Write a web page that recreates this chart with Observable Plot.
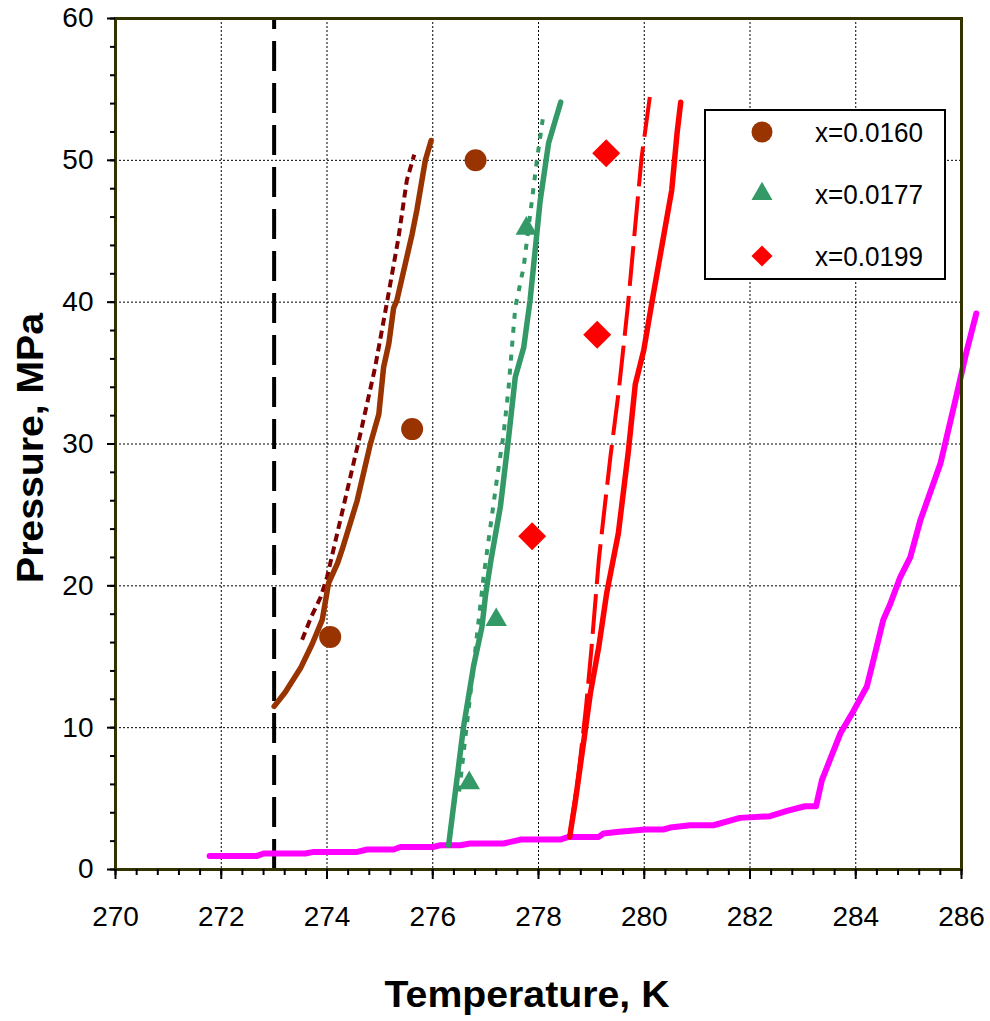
<!DOCTYPE html>
<html>
<head>
<meta charset="utf-8">
<script src="https://cdn.jsdelivr.net/npm/d3@7"></script>
<script src="https://cdn.jsdelivr.net/npm/@observablehq/plot@0.6"></script>
<style>
  html, body { margin: 0; padding: 0; background: #fff; }
  #chart svg { display: block; }
</style>
</head>
<body>
<div id="chart"></div>
<script>
// ---------- axis ticks ----------
const tempTicks = [270, 272, 274, 276, 278, 280, 282, 284, 286];
const pressureTicks = [0, 10, 20, 30, 40, 50, 60];
const tempGrid = [272, 274, 276, 278, 280, 282, 284];
const pressureGrid = [10, 20, 30, 40, 50];
const iceT = [273];
const xTitle = "Temperature, K";
const yTitle = "Pressure, MPa";

// ---------- legend ----------
const seriesNames = ["x=0.0160", "x=0.0177", "x=0.0199"];
const seriesColors = ["#993300", "#339966", "#FF0000"];
const seriesSymbols = ["circle", "triangle", "diamond2"];

// ---------- experimental points ----------
const circleT = [274.06, 275.61, 276.81];
const circleP = [16.4, 31.05, 50.0];
const triT = [276.69, 277.2, 277.77];
const triP = [6.1, 17.6, 45.2];
const diaT = [277.88, 279.11, 279.28];
const diaP = [23.5, 37.7, 50.5];

// ---------- curves x=0.0160 ----------
const brownSolidT = [273.0, 273.21, 273.5, 273.72, 273.91, 274.03, 274.2, 274.29, 274.57, 274.82, 274.98, 275.07, 275.17, 275.26, 275.32, 275.61, 275.7, 275.86, 275.97];
const brownSolidP = [11.5, 12.5, 14.2, 15.9, 17.6, 20.2, 21.6, 22.6, 26.0, 30.0, 32.1, 35.4, 37.1, 39.6, 40.1, 44.8, 46.5, 50.0, 51.4];
const brownDotT = [273.53, 273.7, 273.88, 274.0, 274.25, 274.63, 274.91, 275.14, 275.35, 275.51, 275.65];
const brownDotP = [16.2, 17.8, 19.2, 20.6, 24.6, 30.7, 35.4, 40.1, 44.5, 48.6, 50.4];

// ---------- curves x=0.0177 ----------
const greenSolidT = [276.3, 276.58, 276.77, 276.93, 277.0, 277.1, 277.28, 277.43, 277.56, 277.72, 277.84, 278.03, 278.19, 278.42];
const greenSolidP = [1.7, 10.0, 14.3, 17.1, 19.4, 21.8, 25.6, 30.3, 34.7, 36.8, 40.1, 47.1, 51.2, 54.1];
const greenDotT = [276.5, 276.7, 276.96, 277.22, 277.34, 277.43, 277.56, 277.72, 277.97, 278.08];
const greenDotP = [5.5, 12.0, 20.6, 27.7, 30.7, 33.8, 39.6, 42.5, 50.0, 52.9];

// ---------- curves x=0.0199 ----------
const redSolidT = [278.59, 278.7, 278.85, 278.98, 279.14, 279.29, 279.51, 279.70, 279.83, 279.99, 280.15, 280.52, 280.62, 280.69];
const redSolidP = [2.3, 4.9, 8.9, 12.4, 15.7, 19.5, 23.7, 29.5, 34.2, 36.6, 40.1, 47.9, 51.9, 54.1];
const redDashT = [278.6, 278.75, 278.9, 279.0, 279.14, 279.25, 279.36, 279.51, 279.58, 279.7, 279.82, 279.95, 280.11];
const redDashP = [2.6, 6.5, 11.5, 15.5, 21.8, 25.5, 29.1, 33.5, 35.9, 40.1, 45.0, 50.2, 54.6];

// ---------- hydrate (pure water) curve ----------
const magT = [271.78, 272.68, 272.8, 273.59, 273.75, 274.57, 274.76, 275.26, 275.39, 276.02, 276.14, 276.52, 276.71, 277.34, 277.66, 278.41, 278.57, 279.14, 279.23, 279.48, 280.02, 280.36, 280.49, 280.87, 281.31, 281.81, 282.38, 282.7, 283.04, 283.25, 283.36, 283.71, 283.96, 284.21, 284.33, 284.52, 284.65, 284.84, 285.03, 285.22, 285.6, 285.91, 286.1, 286.28];
const magP = [0.96, 0.96, 1.13, 1.13, 1.24, 1.24, 1.41, 1.41, 1.59, 1.59, 1.71, 1.71, 1.83, 1.83, 2.11, 2.11, 2.3, 2.3, 2.54, 2.65, 2.82, 2.82, 2.96, 3.12, 3.12, 3.64, 3.76, 4.13, 4.46, 4.46, 6.3, 9.6, 11.2, 12.9, 14.7, 17.6, 18.7, 20.6, 22.0, 24.6, 28.6, 33.5, 36.6, 39.2];

const zip = (T, P) => T.map((t, i) => ({T: t, P: P[i]}));

const minorX = d3.range(0, 41).map(i => 270 + i * 0.4);
const minorY = d3.range(0, 31).map(i => i * 2);

const FONT = "'Liberation Sans', Arial, Helvetica, sans-serif";

const lineOpts = (color, width, dash) => ({
  x: "T", y: "P", stroke: color, strokeWidth: width,
  strokeDasharray: dash, strokeLinejoin: "round", strokeLinecap: dash ? "butt" : "round"
});

const chart = Plot.plot({
  width: 990,
  height: 1021,
  marginTop: 18,
  marginLeft: 115,
  marginRight: 29,
  marginBottom: 152,
  style: {fontFamily: FONT, background: "#fff", color: "#000"},
  x: {domain: [270, 286], axis: null},
  y: {domain: [0, 60], axis: null},
  marks: [
    Plot.gridX(tempGrid, {stroke: "#000", strokeOpacity: 1, strokeWidth: 1, strokeDasharray: "2,2"}),
    Plot.gridY(pressureGrid, {stroke: "#000", strokeOpacity: 1, strokeWidth: 1, strokeDasharray: "2,2"}),
    Plot.ruleX(iceT, {y1: 0, y2: 60, stroke: "#000", strokeWidth: 4, strokeDasharray: "30,12"}),
    Plot.line(zip(magT, magP), lineOpts("#FF00FF", 6)),
    Plot.line(zip(brownDotT, brownDotP), lineOpts("#800000", 4, "8,5")),
    Plot.line(zip(brownSolidT, brownSolidP), lineOpts("#993300", 5.5)),
    Plot.line(zip(greenDotT, greenDotP), lineOpts("#339966", 4, "6,8")),
    Plot.line(zip(greenSolidT, greenSolidP), lineOpts("#339966", 5.5)),
    Plot.line(zip(redDashT, redDashP), lineOpts("#FF0000", 4, "40,10")),
    Plot.line(zip(redSolidT, redSolidP), lineOpts("#FF0000", 5.5)),
    Plot.dot(zip(circleT, circleP), {x: "T", y: "P", symbol: "circle", r: 11, fill: "#993300"}),
    Plot.dot(zip(triT, triP), {x: "T", y: "P", symbol: "triangle", r: 8, fill: "#339966"}),
    Plot.dot(zip(diaT, diaP), {x: "T", y: "P", symbol: "diamond2", r: 12.6, fill: "#FF0000"}),
    Plot.frame({stroke: "#333300", strokeWidth: 3}),
    Plot.axisX(minorX, {tickSize: 6, strokeWidth: 2, text: null, label: null}),
    Plot.axisX(tempTicks, {tickSize: 10, tickPadding: 27, strokeWidth: 2, fontSize: 28, label: null, tickFormat: d => String(d)}),
    Plot.axisY(minorY, {tickSize: 5, strokeWidth: 2, text: null, label: null}),
    Plot.axisY(pressureTicks, {tickSize: 8, tickPadding: 14, strokeWidth: 2, fontSize: 28, label: null, tickFormat: d => String(d)})
  ]
});

document.getElementById("chart").appendChild(chart);

const svg = d3.select(chart);

// ---------- axis titles ----------
const titles = svg.append("g")
  .attr("font-family", FONT).attr("font-weight", "bold").attr("font-size", 36)
  .attr("fill", "#000").attr("text-anchor", "middle");
titles.append("text")
  .attr("x", 527).attr("y", 1007)
  .attr("textLength", 285).attr("lengthAdjust", "spacingAndGlyphs")
  .text(xTitle);
titles.append("text")
  .attr("transform", "translate(43,448) rotate(-90)")
  .attr("textLength", 270).attr("lengthAdjust", "spacingAndGlyphs")
  .text(yTitle);

// ---------- legend ----------
const lg = svg.append("g").attr("font-family", FONT).attr("text-anchor", "start");
lg.append("rect")
  .attr("x", 705).attr("y", 110).attr("width", 240).attr("height", 169)
  .attr("fill", "#fff").attr("stroke", "#000").attr("stroke-width", 2);
const legendSymbolSize = {circle: Math.PI * 10.5 * 10.5, triangle: Math.PI * 7.8 * 7.8, diamond2: Math.PI * 9.5 * 9.5};
const symbolMap = {circle: d3.symbolCircle, triangle: d3.symbolTriangle, diamond2: d3.symbolDiamond2};
seriesNames.forEach((name, i) => {
  const cy = 132 + i * 62;
  lg.append("path")
    .attr("transform", `translate(762,${cy})`)
    .attr("d", d3.symbol(symbolMap[seriesSymbols[i]], legendSymbolSize[seriesSymbols[i]])())
    .attr("fill", seriesColors[i]);
  lg.append("text")
    .attr("x", 815).attr("y", cy).attr("dy", "0.36em")
    .attr("font-size", 27).attr("fill", "#000")
    .attr("textLength", 108).attr("lengthAdjust", "spacingAndGlyphs")
    .text(name);
});
</script>
</body>
</html>
